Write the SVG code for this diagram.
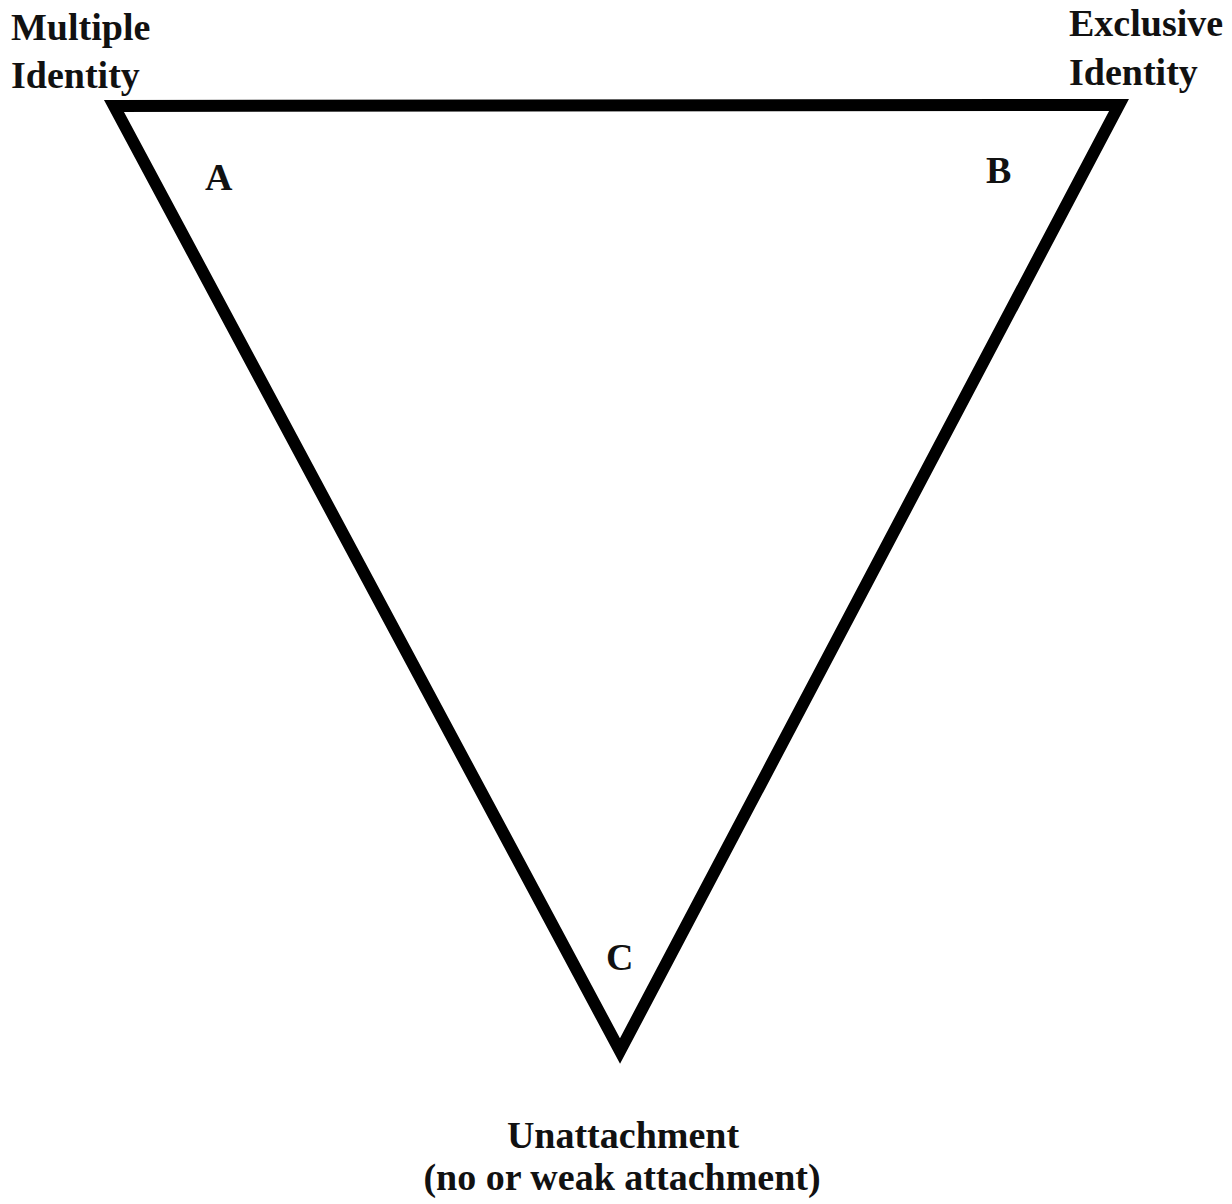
<svg xmlns="http://www.w3.org/2000/svg" width="1232" height="1204" viewBox="0 0 1232 1204">
<style>
text{font-family:"Liberation Serif","Times New Roman",serif;font-weight:bold;font-size:38px;fill:#111}
.c{text-anchor:middle}
</style>
<rect width="1232" height="1204" fill="#fff"/>
<g id="connectors">
<polygon points="114,106 1119,105 620,1051" fill="none" stroke="#000" stroke-width="12" stroke-linejoin="miter" stroke-miterlimit="10"/>
</g>
<g id="node-multiple"><text x="11" y="40">Multiple</text><text x="11" y="88">Identity</text></g>
<g id="node-exclusive"><text x="1069" y="36">Exclusive</text><text x="1069" y="85">Identity</text></g>
<g id="node-A"><text x="205" y="190">A</text></g>
<g id="node-B"><text x="986" y="183">B</text></g>
<g id="node-C"><text x="606" y="970">C</text></g>
<g id="node-unattachment"><text class="c" x="623" y="1148">Unattachment</text><text class="c" x="622" y="1190">(no or weak attachment)</text></g>
</svg>
